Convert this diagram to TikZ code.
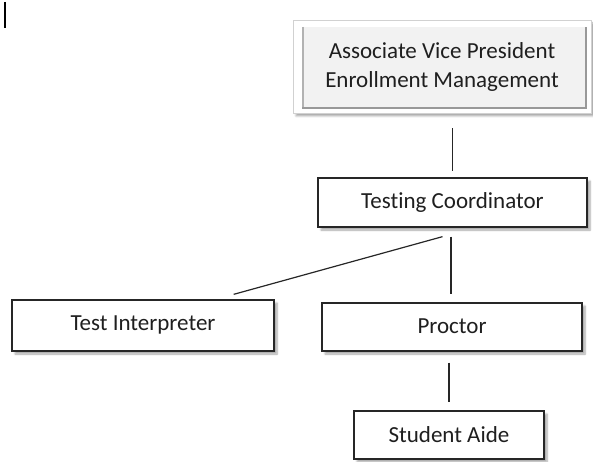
\documentclass[tikz,border=0pt]{standalone}
\usepackage{fontspec}
\setmainfont{Carlito}[Ligatures=NoCommon]
\usetikzlibrary{shadows.blur}

\begin{document}
\begin{tikzpicture}[
		x=1pt, y=-1pt,
		font=\fontsize{23}{29}\selectfont,
		box/.style={draw=black!85, line width=1.3pt, fill=white, text=black!88, align=center, inner sep=0pt,
			blur shadow={shadow xshift=3pt, shadow yshift=-3pt, shadow blur steps=6, shadow opacity=35}},
		topbox/.style={box, draw=black!18, line width=0.8pt,
			path picture={
				\fill[black!5] ([shift={(9,7)}]path picture bounding box.north west) rectangle ([shift={(-4,-4)}]path picture bounding box.south east);
				\draw[black!30, line width=2.5pt] ([shift={(10,7)}]path picture bounding box.north west) -- ([shift={(10,-4)}]path picture bounding box.south west);
				\draw[black!40, line width=1.5pt] ([shift={(9,-5)}]path picture bounding box.south west) -- ([shift={(-5,-5)}]path picture bounding box.south east) -- ([shift={(-5,7)}]path picture bounding box.north east);
			}},
		link/.style={line width=1.2pt, black!85}
	]
		\useasboundingbox (0,0) rectangle (593,462);

		% text cursor
		\draw[line width=1.6pt] (5,2) -- (5,28);

		\node[topbox, minimum width=298pt, minimum height=93pt] (avp) at (442,66.5) {Associate Vice President\\Enrollment Management};
		\node[box, minimum width=269pt, minimum height=49pt] (coord) at (452.5,202.5) {Testing Coordinator};
		\node[box, minimum width=262pt, minimum height=51pt] (interp) at (143,325.5) {\raisebox{4pt}{Test Interpreter}};
		\node[box, minimum width=260pt, minimum height=48pt] (proctor) at (452,327) {\raisebox{2pt}{Proctor}};
		\node[box, minimum width=190pt, minimum height=48pt] (aide) at (449,435) {Student Aide};

		\draw[link, shorten <=15pt, shorten >=6pt] (avp.south -| coord.north) -- (coord.north);
		\draw[link] ([shift={(-10,9)}]coord.south) -- ([shift={(-41,-5)}]interp.north east);
		\draw[link, shorten <=9pt, shorten >=8pt] ([xshift=-1.5pt]coord.south) -- ([xshift=-1.5pt]coord.south |- proctor.north);
		\draw[link, shorten <=11pt, shorten >=8pt] (proctor.south -| aide.north) -- (aide.north);
	\end{tikzpicture}
\end{document}
